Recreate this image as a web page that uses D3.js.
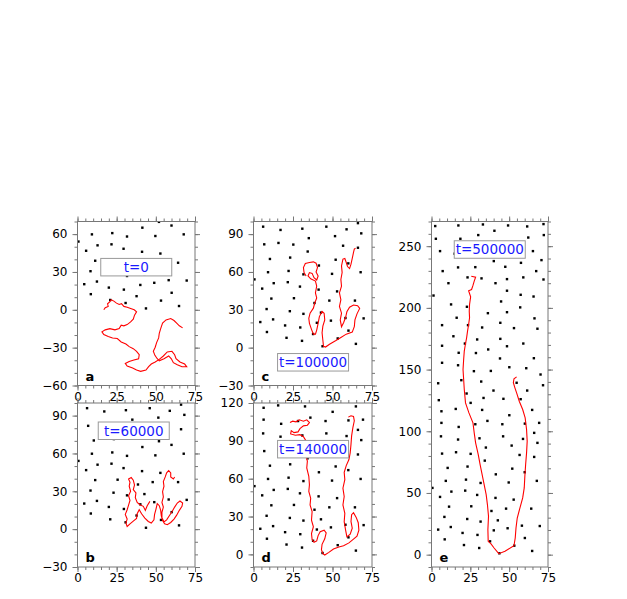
<!DOCTYPE html>
<html>
<head>
<meta charset="utf-8">
<script src="https://cdn.jsdelivr.net/npm/d3@7"></script>
<style>
  body { margin: 0; background: #fff; }
  svg { display: block; font-family: "DejaVu Sans", sans-serif; }
</style>
</head>
<body>
<svg id="chart" width="627" height="599"></svg>
<script>
// x ticks shared by every panel
const xMajor = [0, 25, 50, 75];
const xMinor = d3.range(0, 76, 5);

// obstacle array (lab frame, same in all panels)
const obstacles = [
  [4.7,125.2],[22.6,130.6],[39.9,133.0],[61.6,133.0],[33.5,127.0],[46.3,126.3],[57.4,126.0],[25.2,123.0],
  [6.4,116.2],[15.6,118.1],[32.6,117.3],[64.8,117.3],[50.1,113.0],
  [6.4,106.8],[17.5,103.5],[28.2,105.7],[36.0,108.4],[45.6,105.7],[60.1,106.2],[69.3,106.8],
  [66.1,98.7],[6.1,95.9],[17.1,93.3],[30.9,94.3],[46.1,95.9],[58.9,93.8],[68.2,90.6],[51.6,88.4],[35.0,86.8],
  [6.8,81.9],[15.8,83.0],[25.2,81.7],[56.7,80.8],[66.1,79.2],[34.3,76.2],
  [10.4,70.3],[23.2,71.4],[52.0,69.7],[60.0,66.8],[41.4,65.1],
  [9.2,59.8],[22.2,60.8],[31.6,58.1],[49.7,58.5],[67.8,59.8],
  [0.6,54.1],[12.8,51.1],[21.7,51.9],[29.4,48.4],[5.5,46.8],[41.2,46.0],[52.9,44.6],
  [11.3,38.9],[25.6,39.2],[38.6,35.4],[48.0,37.3],[64.2,37.3],
  [8.3,30.6],[23.0,28.9],[31.6,26.8],[42.7,27.8],[58.2,23.5],[69.7,23.2],
  [4.3,20.3],[12.4,22.4],[40.1,19.7],[49.0,21.4],[20.0,17.6],[29.6,16.0],
  [8.5,12.4],[60.1,13.5],[37.7,10.8],[20.9,7.8],[53.3,7.3],[30.7,5.4],[43.7,1.1],[64.8,3.0],
  [54.8,139.3],[71.8,137.3],[4.3,138.9],[19.2,141.4],[32.0,140.3],
  [70.2,146.0],[27.3,148.7],[38.2,148.9],[50.1,151.9],[61.0,151.1],[6.8,155.5],[17.1,153.5],
  [44.1,159.0],[65.9,159.2],[17.5,163.6],[28.6,163.4],[36.5,166.3],[48.6,168.9],[6.8,169.3],
  [21.5,171.1],[59.1,171.1],[29.4,174.4],[44.3,174.9],[14.1,177.0],
  [32.6,184.1],[53.1,183.6],[68.2,183.1],[6.8,186.0],[23.5,186.0],[44.3,187.9],
  [16.2,192.0],[66.3,191.5],[36.3,195.7],[48.6,196.5],
  [22.8,200.9],[57.1,200.4],[12.6,202.8],[44.8,205.2],
  [1.3,210.0],[57.4,210.6],[65.7,209.2],[48.6,213.9],
  [10.9,220.0],[41.2,220.0],[23.2,224.7],[32.2,223.9],[48.6,223.3],[59.1,224.7],[72.1,223.0],
  [7.2,229.8],[67.4,229.8],[17.1,232.8],[28.2,233.0],[47.5,233.3],
  [40.1,237.9],[57.6,236.5],[70.8,238.7],
  [5.5,246.0],[14.9,243.9],[65.3,246.0],
  [2.8,256.0],[18.6,256.0],[62.3,257.0],[30.1,259.0],[72.3,259.0],[40.5,262.5],
  [2.4,266.3],[17.3,266.8],[33.1,267.6],[49.3,266.8],[61.6,266.0],[72.1,267.9]
];

// chain conformations at each time
const chainA = [
  [16.8,0.0],[17.7,1.6],[19.6,2.7],[19.2,4.8],[20.7,6.4],[21.5,8.0],[23.2,6.9],[24.9,5.3],[26.6,4.2],
  [28.1,4.8],[29.6,2.7],[31.7,2.1],[33.9,1.1],[36.2,0.0],[37.7,-1.6],[36.4,-4.2],[35.6,-7.4],[33.9,-9.6],
  [31.7,-11.7],[29.6,-12.7],[27.9,-12.2],[26.6,-14.9],[23.9,-15.9],[20.7,-14.9],[17.7,-15.9],[15.6,-17.5],
  [16.8,-19.6],[19.6,-21.2],[22.4,-22.3],[25.4,-22.8],[27.9,-25.5],[30.9,-27.1],[33.0,-29.2],[35.6,-30.8],
  [37.7,-32.9],[39.4,-35.6],[39.0,-38.8],[36.0,-39.8],[33.0,-40.9],[30.5,-42.5],[31.7,-44.6],[35.2,-46.2],
  [37.7,-47.8],[40.3,-48.8],[43.7,-47.8],[45.4,-45.1],[47.1,-43.0],[49.6,-41.4],[52.2,-39.3],[54.8,-36.6],
  [57.3,-33.4],[60.3,-32.9],[62.0,-35.6],[62.9,-38.8],[65.4,-41.4],[68.4,-43.0],[69.7,-45.1],[66.7,-45.1],
  [63.7,-43.5],[61.2,-41.9],[59.9,-38.8],[58.2,-36.6],[55.2,-38.8],[52.2,-40.4],[50.9,-38.8],[49.4,-36.1],
  [48.4,-32.9],[49.6,-29.7],[50.5,-26.0],[51.8,-22.3],[52.2,-18.6],[53.1,-14.9],[54.3,-10.6],[56.5,-8.0],
  [59.5,-6.9],[61.6,-8.5],[63.3,-10.6],[65.0,-12.7],[67.1,-14.3]
];
const chainB = [
  [46.2,22.0],[44.5,18.6],[43.3,14.9],[42.0,18.1],[39.8,19.4],[38.1,21.2],[36.9,25.0],[37.3,28.7],
  [35.6,31.3],[36.4,35.0],[35.6,38.8],[34.3,40.9],[32.6,39.8],[33.5,37.2],[33.0,34.0],[33.9,30.0],
  [32.6,26.5],[33.5,22.8],[32.6,19.1],[31.7,15.4],[30.5,11.7],[31.7,8.0],[30.9,4.8],[31.7,2.1],
  [33.5,4.2],[35.6,6.4],[37.7,8.5],[38.1,12.2],[39.4,15.4],[40.9,12.2],[43.0,8.8],[45.2,6.1],
  [47.1,4.8],[48.8,7.4],[49.2,11.7],[50.1,15.9],[50.9,20.2],[52.2,18.6],[53.1,14.9],[53.5,10.6],
  [54.3,6.9],[55.6,4.2],[57.3,3.5],[59.5,5.3],[61.6,8.0],[63.3,11.1],[65.0,14.9],[66.7,18.1],
  [67.1,20.7],[65.4,22.3],[63.7,20.7],[62.0,17.5],[60.3,13.8],[58.6,10.6],[56.9,7.4],[55.2,5.8],
  [53.9,9.0],[53.9,13.3],[54.8,17.5],[53.9,21.2],[54.8,25.5],[54.3,29.7],[55.2,34.0],[54.8,37.7],
  [56.0,41.4],[56.9,44.6],[58.2,46.5],[59.5,44.6],[59.5,41.4],[61.2,39.8],[62.0,41.4]
];
const chainC = [
  [33.3,56.8],[32.0,59.5],[31.6,63.5],[32.8,66.7],[35.4,67.5],[37.9,68.0],[39.6,67.0],[40.5,63.5],
  [39.6,60.0],[40.9,56.8],[40.0,53.6],[38.3,55.5],[37.1,58.9],[35.4,59.5],[34.5,56.8],[36.2,54.6],
  [39.2,52.8],[40.0,48.8],[39.2,43.4],[40.0,39.4],[38.8,35.4],[37.9,31.3],[35.8,27.3],[35.0,23.3],
  [35.4,19.3],[36.7,14.5],[37.9,10.7],[39.2,10.7],[40.0,13.9],[40.9,19.3],[41.7,24.6],[43.4,28.7],
  [44.7,27.3],[45.1,22.0],[43.9,17.1],[43.4,11.8],[43.9,5.9],[44.3,1.1],[45.6,0.5],[48.1,2.7],
  [51.9,5.4],[55.3,8.0],[58.7,10.7],[62.5,12.3],[63.8,16.6],[64.2,22.0],[65.5,26.8],[67.2,31.1],
  [65.9,33.2],[63.3,33.8],[60.8,32.1],[59.1,28.4],[58.3,24.1],[57.0,19.8],[55.7,16.6],[54.9,22.0],
  [55.7,27.3],[54.4,32.7],[55.3,38.0],[54.4,43.4],[55.7,48.8],[55.3,54.1],[56.1,59.5],[55.7,64.8],
  [56.6,70.2],[57.8,70.7],[58.7,67.5],[59.5,64.3],[60.8,62.7],[61.7,66.2],[62.5,70.7],[63.3,75.5],
  [63.8,78.2],[64.6,78.8]
];
const chainD = [
  [23.1,104.5],[24.8,105.6],[26.9,105.1],[29.0,106.7],[31.6,105.6],[33.7,106.7],[35.4,104.5],[34.1,102.4],
  [31.6,101.9],[29.4,99.7],[28.2,97.1],[25.6,96.5],[23.9,98.1],[23.5,95.5],[26.5,94.4],[29.4,94.9],
  [31.6,93.3],[33.3,89.9],[33.7,84.5],[32.8,79.2],[34.1,73.9],[33.7,68.5],[35.0,61.9],[35.4,55.2],
  [35.0,49.9],[36.2,44.5],[35.8,39.2],[37.1,33.9],[36.7,27.2],[37.9,21.9],[36.7,16.5],[37.1,11.7],
  [38.3,9.6],[40.0,10.7],[40.9,14.9],[42.2,17.9],[44.7,19.2],[46.0,17.1],[45.1,12.3],[43.4,8.0],
  [43.0,3.7],[43.9,0.5],[45.1,-0.5],[47.7,1.6],[50.6,4.3],[54.0,5.9],[57.0,6.9],[60.4,9.1],
  [62.9,11.7],[65.5,14.4],[66.7,19.2],[66.3,25.1],[65.0,29.3],[63.3,33.1],[62.1,31.5],[61.7,26.1],
  [62.5,20.8],[61.2,16.0],[59.1,13.9],[58.3,19.2],[57.4,25.9],[57.8,32.5],[56.6,39.2],[57.4,45.9],
  [56.6,52.5],[57.8,59.2],[57.4,65.1],[58.7,70.4],[60.4,75.2],[61.2,80.5],[61.7,87.2],[62.1,93.9],
  [62.9,100.5],[63.8,105.9],[63.3,109.3],[61.7,109.9],[60.0,108.8]
];
const chainE = [
  [25.6,225.7],[28.4,224.9],[27.5,221.7],[26.7,218.2],[25.8,214.9],[23.9,213.9],[25.2,209.0],[24.5,202.8],
  [24.3,197.3],[24.5,192.0],[23.9,186.5],[23.2,181.1],[22.6,175.7],[21.8,170.3],[21.1,164.9],[20.7,158.2],
  [20.3,150.0],[20.7,141.9],[21.1,133.8],[21.9,123.0],[24.1,114.9],[26.7,106.8],[27.5,98.7],[28.4,90.6],
  [30.1,81.1],[31.3,73.0],[32.6,64.9],[33.9,56.8],[35.2,48.7],[36.0,40.6],[36.7,31.1],[36.3,20.3],
  [36.5,10.8],[38.2,8.9],[40.3,5.4],[43.3,0.8],[47.3,2.7],[53.1,7.3],[53.9,13.5],[54.4,21.6],
  [55.2,29.7],[56.9,37.8],[58.7,46.0],[59.7,54.1],[60.1,63.5],[60.6,73.0],[61.2,82.5],[61.6,91.9],
  [61.2,101.4],[60.3,110.9],[58.7,117.6],[56.5,124.3],[54.8,131.1],[53.7,135.2],[52.7,139.3],[53.1,142.5],
  [54.8,144.1]
];

// time labels, y ranges and y ticks of the panels
const panelIds = ["a", "b", "c", "d", "e"];
const timeLabels = ["t=0", "t=60000", "t=100000", "t=140000", "t=500000"];
const yDomains = [[-60, 70], [-30, 100], [-30, 100], [-10, 120], [-10, 270]];
const yMajors = [
  [-60, -30, 0, 30, 60],
  [-30, 0, 30, 60, 90],
  [-30, 0, 30, 60, 90],
  [0, 30, 60, 90, 120],
  [0, 50, 100, 150, 200, 250]
];
const labelAnchors = [[37.5, 33.8], [35.9, 78], [37.7, -11.6], [37.7, 83.4], [37.5, 247.3]];
const chains = [chainA, chainB, chainC, chainD, chainE];

// page layout of each panel frame
const frames = [
  { left: 77.5, top: 221.5, width: 117.5, height: 164 },
  { left: 77.5, top: 403, width: 117.5, height: 164 },
  { left: 253.5, top: 221.5, width: 118.5, height: 164 },
  { left: 253.5, top: 403, width: 118.5, height: 164 },
  { left: 431.5, top: 221.5, width: 116.5, height: 345.5 }
];

const svg = d3.select("#chart");
const tickColor = "#777";

const drawPanel = (i) => {
  const f = frames[i];
  const yDomain = yDomains[i];
  const x = d3.scaleLinear().domain([0, 75]).range([f.left, f.left + f.width]);
  const y = d3.scaleLinear().domain(yDomain).range([f.top + f.height, f.top]);
  const g = svg.append("g").attr("class", "panel-" + panelIds[i]);

  const clipId = "clip-" + panelIds[i];
  g.append("clipPath").attr("id", clipId)
    .append("rect")
    .attr("x", f.left).attr("y", f.top)
    .attr("width", f.width).attr("height", f.height);

  const yMinor = d3.range(Math.ceil(yDomain[0] / 10) * 10, yDomain[1] + 1, 10);

  // one axis = minor ticks + major ticks (labels optional)
  const addAxis = (axisGen, scale, transform, major, minor, withLabels, pad) => {
    g.append("g").attr("transform", transform)
      .call(axisGen(scale).tickValues(minor).tickSize(3).tickFormat(""))
      .call((a) => a.select(".domain").remove())
      .selectAll("line").attr("stroke", tickColor);
    const ax = g.append("g").attr("transform", transform)
      .call(axisGen(scale).tickValues(major).tickSize(5).tickPadding(pad)
        .tickFormat(withLabels ? d3.format("d") : ""))
      .call((a) => a.select(".domain").remove());
    ax.selectAll("line").attr("stroke", tickColor);
    ax.selectAll("text")
      .attr("font-family", "DejaVu Sans, sans-serif")
      .attr("font-size", 12)
      .attr("fill", "#000");
  };

  addAxis(d3.axisBottom, x, `translate(0,${f.top + f.height})`, xMajor, xMinor, true, 1.5);
  addAxis(d3.axisTop, x, `translate(0,${f.top})`, xMajor, xMinor, false, 0);
  addAxis(d3.axisLeft, y, `translate(${f.left},0)`, yMajors[i], yMinor, true, 5);
  addAxis(d3.axisRight, y, `translate(${f.left + f.width},0)`, yMajors[i], yMinor, false, 0);

  // obstacles
  const visible = obstacles.filter((d) => d[1] >= yDomain[0] && d[1] <= yDomain[1]);
  g.append("g")
    .attr("clip-path", `url(#${clipId})`)
    .selectAll("rect")
    .data(visible)
    .enter()
    .append("rect")
    .attr("x", (d) => x(d[0]) - 1.2)
    .attr("y", (d) => y(d[1]) - 1.2)
    .attr("width", 2.4)
    .attr("height", 2.4)
    .attr("fill", "#000");

  // polymer chain
  const line = d3.line().x((d) => x(d[0])).y((d) => y(d[1]));
  g.append("path")
    .datum(chains[i])
    .attr("clip-path", `url(#${clipId})`)
    .attr("d", line)
    .attr("fill", "none")
    .attr("stroke", "#ff0000")
    .attr("stroke-width", 1.1)
    .attr("stroke-linejoin", "miter");

  // frame
  g.append("rect")
    .attr("x", f.left).attr("y", f.top)
    .attr("width", f.width).attr("height", f.height)
    .attr("fill", "none")
    .attr("stroke", tickColor)
    .attr("stroke-width", 1);

  // time label box
  const cx = x(labelAnchors[i][0]);
  const cy = y(labelAnchors[i][1]);
  g.append("rect")
    .attr("x", cx - 35.5).attr("y", cy - 8.75)
    .attr("width", 71).attr("height", 17.5)
    .attr("fill", "#fff")
    .attr("stroke", "#999")
    .attr("stroke-width", 1);
  g.append("text")
    .attr("x", cx).attr("y", cy)
    .attr("dy", "0.36em")
    .attr("text-anchor", "middle")
    .attr("font-size", 13.5)
    .attr("fill", "#1a1aff")
    .text(timeLabels[i]);

  // panel letter
  g.append("text")
    .attr("x", f.left + 8)
    .attr("y", f.top + f.height - 5)
    .attr("font-size", 13)
    .attr("font-weight", "bold")
    .attr("fill", "#000")
    .text(panelIds[i]);
};

panelIds.forEach((id, i) => drawPanel(i));
</script>
</body>
</html>
